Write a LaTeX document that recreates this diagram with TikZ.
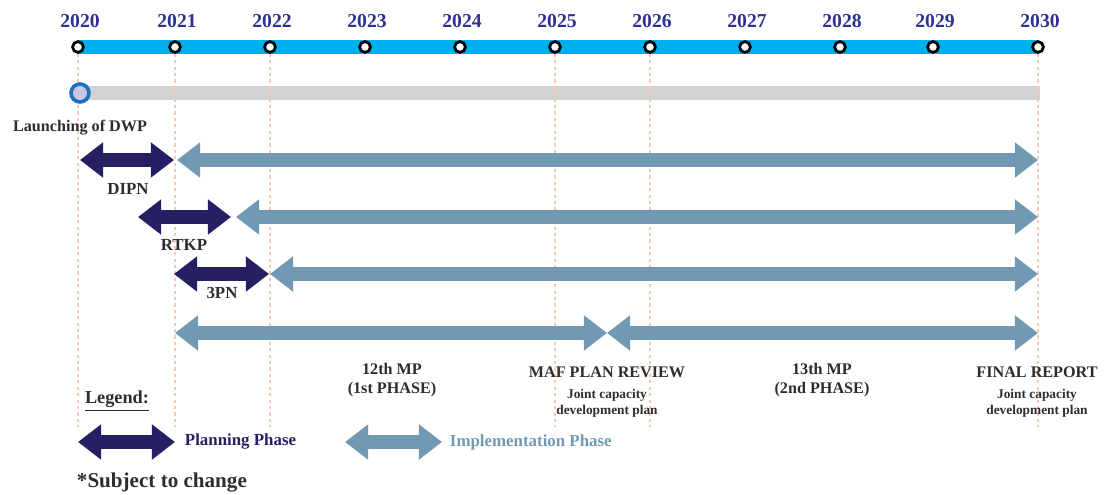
\documentclass[tikz,border=0pt]{standalone}
\usepackage{fontspec}
\setmainfont{Liberation Serif}
\usepackage{tikz}
\usetikzlibrary{arrows.meta, positioning, backgrounds}
\definecolor{yearblue}{RGB}{46,49,146}
\definecolor{barcyan}{RGB}{0,174,239}
\definecolor{bargray}{RGB}{211,209,211}
\definecolor{launchfill}{RGB}{200,196,228}
\definecolor{launchblue}{RGB}{30,114,186}
\definecolor{guidepeach}{RGB}{252,200,180}
\definecolor{plannavy}{RGB}{37,32,98}
\definecolor{implsteel}{RGB}{114,153,180}
\definecolor{textdark}{RGB}{45,45,45}
\tikzset{
    tlyear/.style={circle, draw=black, fill=white, line width=0.07cm, minimum size=0.27cm, inner sep=0pt},
    tlyeartext/.style={font=\fontsize{14}{16}\selectfont\bfseries, text=yearblue},
    tlbar/.style={line width=0.33cm, draw=#1},
    tllaunch/.style={circle, draw=launchblue, fill=launchfill, line width=0.09cm, minimum size=0.45cm, inner sep=0pt},
    tlguide/.style={draw=guidepeach, line width=0.05cm, dash pattern=on 0.08cm off 0.08cm},
    tlphase/.style={line width=0.36cm, draw=#1, {Triangle[width=0.85cm, length=0.58cm]}-{Triangle[width=0.85cm, length=0.58cm]}},
    tllabel/.style={font=\fontsize{12}{14}\selectfont\bfseries, text=textdark, align=center},
    tlnote/.style={font=\fontsize{9.5}{11.5}\selectfont\bfseries, text=textdark, align=center},
    tllegend/.style={font=\fontsize{12}{14}\selectfont\bfseries, text=#1, anchor=west}
}

\begin{document}
\begin{tikzpicture}[x=0.025cm, y=-0.025cm]
\useasboundingbox (0,0) rectangle (1105,494);

% years on the top axis
\foreach \yr/\xx in {2020/78, 2021/175, 2022/270, 2023/365, 2024/460, 2025/555, 2026/650, 2027/745, 2028/840, 2029/933, 2030/1038} {
    \node[tlyear] (y\yr) at (\xx,47) {};
    \node[tlyeartext] (t\yr) at (\xx+2,21) {\yr};
}
\node[tllaunch] (launch) at (80,93) {};
\coordinate (grayend) at (1040,93);

\begin{scope}[on background layer]
\draw[tlbar=barcyan] (y2020.center) -- (y2030.center);
\draw[tlbar=bargray] (launch.center) -- (grayend);
\foreach \yr in {2020, 2021, 2022, 2025, 2026, 2030}
    \draw[tlguide] (y\yr.south) -- (y\yr.south |- 0,427);
\end{scope}

\node[tllabel, font=\fontsize{11.5}{13}\selectfont\bfseries] (launchtxt) at (80,128) {Launching of DWP};

% phase rows
\coordinate (p1a) at (80,160);  \coordinate (p1b) at (174,160);
\coordinate (i1a) at (177,160); \coordinate (i1b) at (1038,160);
\coordinate (p2a) at (138,217); \coordinate (p2b) at (231,217);
\coordinate (i2a) at (236,217); \coordinate (i2b) at (1038,217);
\coordinate (p3a) at (174,274); \coordinate (p3b) at (269,274);
\coordinate (i3a) at (270,274); \coordinate (i3b) at (1038,274);
\coordinate (i4a) at (175,333); \coordinate (m4) at (607,333);
\coordinate (i4b) at (1038,333);

\draw[tlphase=plannavy] (p1a) -- (p1b);
\draw[tlphase=implsteel] (i1a) -- (i1b);
\draw[tlphase=plannavy] (p2a) -- (p2b);
\draw[tlphase=implsteel] (i2a) -- (i2b);
\draw[tlphase=plannavy] (p3a) -- (p3b);
\draw[tlphase=implsteel] (i3a) -- (i3b);
\draw[tlphase=implsteel] (i4a) -- (m4);
\draw[tlphase=implsteel] (m4) -- (i4b);

\node[tllabel] (dipn) at (128,189) {DIPN};
\node[tllabel] (rtkp) at (184,245) {RTKP};
\node[tllabel] (tpn) at (222,293) {3PN};

% milestones
\node[tllabel, font=\fontsize{11.5}{14}\selectfont\bfseries] (mp12) at (392,380) {12th MP\\(1st PHASE)};
\node[tllabel, font=\fontsize{11.5}{14}\selectfont\bfseries] (mp13) at (822,380) {13th MP\\(2nd PHASE)};
\node[tllabel, font=\fontsize{11.5}{14}\selectfont\bfseries] (maf) at (607,372) {MAF PLAN REVIEW};
\node[tlnote, below=1pt of maf] (mafnote) {Joint capacity\\development plan};
\node[tllabel, font=\fontsize{11.5}{14}\selectfont\bfseries] (final) at (1037,372) {FINAL REPORT};
\node[tlnote, below=1pt of final] (finalnote) {Joint capacity\\development plan};

% legend
\node[tllabel, font=\fontsize{13}{15}\selectfont\bfseries] (legend) at (117,401) {\underline{Legend:}};
\coordinate (lpa) at (78,442);  \coordinate (lpb) at (175,442);
\coordinate (lia) at (345,442); \coordinate (lib) at (442,442);
\draw[tlphase=plannavy] (lpa) -- (lpb);
\draw[tlphase=implsteel] (lia) -- (lib);
\node[tllegend=plannavy] (plantxt) at (180,442) {Planning Phase};
\node[tllegend=implsteel] (impltxt) at (445,442) {Implementation Phase};
\node[tllabel, font=\fontsize{15}{17}\selectfont\bfseries, anchor=west] (subject) at (72,483) {*Subject to change};

\end{tikzpicture}
\end{document}
